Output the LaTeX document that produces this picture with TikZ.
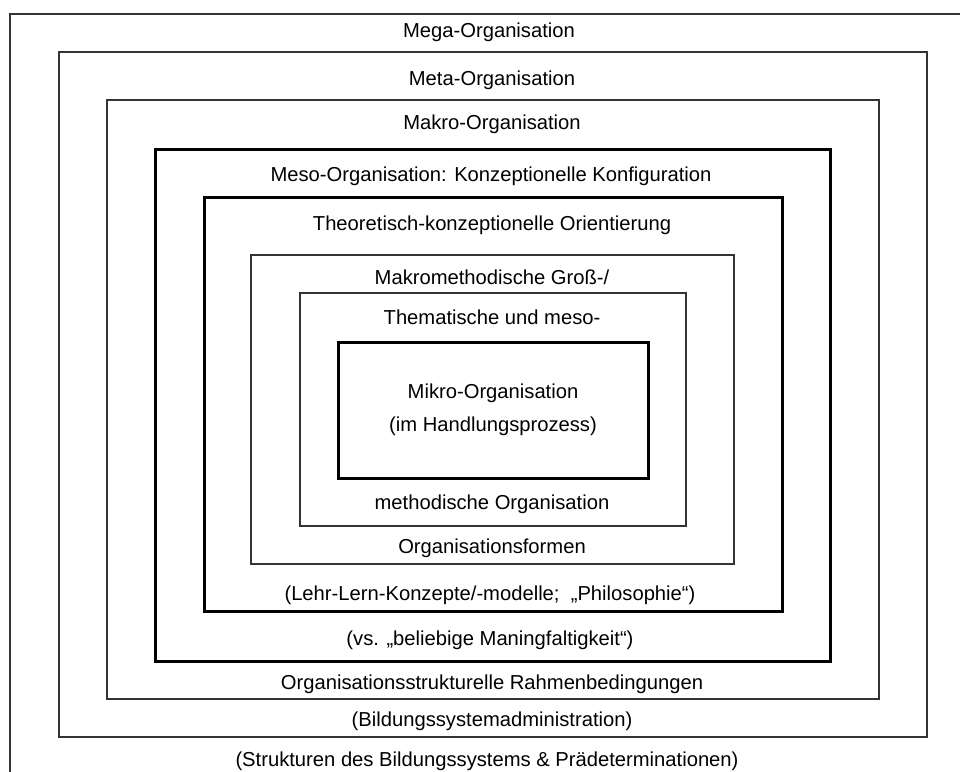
\documentclass[tikz,border=0pt]{standalone}
\usepackage{fontspec}
\setmainfont{Liberation Sans}
\begin{document}
\begin{tikzpicture}[x=1pt,y=-1pt,
  thinbox/.style={draw=black!80,line width=1.2pt},
  thickbox/.style={draw=black,line width=3pt},
  lbl/.style={anchor=base,inner sep=0pt,font=\fontsize{20.2}{24}\selectfont}]
\useasboundingbox (0,0) rectangle (960,771);
\begin{scope}
\clip (0,0) rectangle (960,771);
% nested frames, outermost first
\draw[thinbox] (10,14) rectangle (975,790);
\draw[thinbox] (59,52) rectangle (927,737);
\draw[thinbox] (107,100) rectangle (879,699);
\draw[thickbox] (155,149) rectangle (830,661);
\draw[thickbox] (204,197) rectangle (782,611);
\draw[thinbox] (251,255) rectangle (734,564);
\draw[thinbox] (300,293) rectangle (686,526);
\draw[thickbox] (338,342) rectangle (648,478);
\end{scope}
% labels, top half
\node[lbl] (mega) at (489,37) {Mega-Organisation};
\node[lbl] (meta) at (492,85) {Meta-Organisation};
\node[lbl] (makro) at (492,129) {Makro-Organisation};
\node[lbl] (meso) at (491,181) {Meso-Organisation: Konzeptionelle Konfiguration};
\node[lbl] (theo) at (492,230) {Theoretisch-konzeptionelle Orientierung};
\node[lbl] (mmeth) at (492,284) {Makromethodische Groß-/};
\node[lbl] (them) at (492,324) {Thematische und meso-};
\node[lbl] (mikro) at (493,398) {Mikro-Organisation};
\node[lbl] (hand) at (493,431) {(im Handlungsprozess)};
% labels, bottom half
\node[lbl] (meth) at (492,509) {methodische Organisation};
\node[lbl] (orgf) at (492,553) {Organisationsformen};
\node[lbl] (lehr) at (490,600) {(Lehr-Lern-Konzepte/-modelle;\ \ „Philosophie“)};
\node[lbl] (vs) at (490,645) {(vs. „beliebige Maningfaltigkeit“)};
\node[lbl] (rahmen) at (492,689) {Organisationsstrukturelle Rahmenbedingungen};
\node[lbl] (admin) at (492,726) {(Bildungssystemadministration)};
\node[lbl] (struk) at (487,766) {(Strukturen des Bildungssystems \& Prädeterminationen)};
\end{tikzpicture}
\end{document}
